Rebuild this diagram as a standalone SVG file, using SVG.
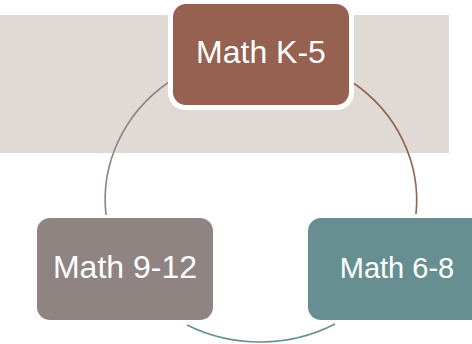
<svg xmlns="http://www.w3.org/2000/svg" width="472" height="344" viewBox="0 0 472 344">
  <style>
    .lbl { font-family: "Liberation Sans", Arial, sans-serif; fill: #ffffff; text-anchor: middle; }
    .arc { fill: none; stroke-width: 1.6; }
  </style>
  <rect id="band" x="0" y="15" width="449" height="138" fill="#DFDAD4"/>
  <g id="connectors">
    <path class="arc" stroke="#8F8482" d="M169,82 A156,146 0 0,0 106,215"/>
    <path class="arc" stroke="#95604F" d="M352,82 A156,146 0 0,1 416,214"/>
    <path class="arc" stroke="#678F91" d="M187,325 A156,146 0 0,0 335,324"/>
  </g>
  <g id="node-k5">
    <rect x="168" y="-1" width="186" height="111" rx="17" fill="#ffffff"/>
    <rect x="173" y="4" width="176" height="101" rx="13" fill="#966150"/>
    <text class="lbl" x="261" y="63" font-size="32">Math K-5</text>
  </g>
  <g id="node-68">
    <rect x="308" y="218" width="176" height="102" rx="13" fill="#678F91"/>
    <text class="lbl" x="397" y="278" font-size="29">Math 6-8</text>
  </g>
  <g id="node-912">
    <rect x="37" y="218" width="176" height="102" rx="13" fill="#8F8482"/>
    <text class="lbl" x="125" y="278" font-size="32">Math 9-12</text>
  </g>
</svg>
